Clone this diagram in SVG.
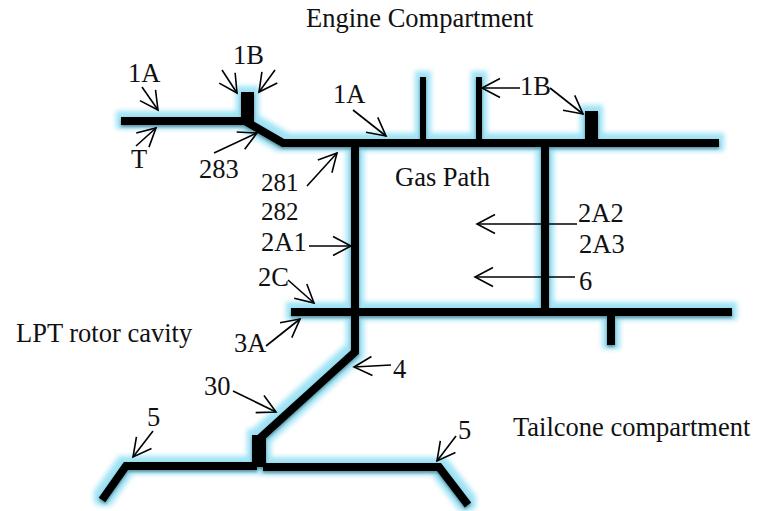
<svg xmlns="http://www.w3.org/2000/svg" width="771" height="511" viewBox="0 0 771 511">
<style>
text{font-family:"Liberation Serif","Times New Roman",serif;font-size:26.500px;fill:#111}
.n{font-size:25px}
.w{fill:none;stroke:#000;stroke-width:8;stroke-linejoin:miter}
.s{fill:none;stroke:#000;stroke-width:6}
.b{fill:#000}
.a{fill:none;stroke:#000;stroke-width:1.600;marker-end:url(#h)}
</style>
<defs>
<marker id="h" markerUnits="userSpaceOnUse" markerWidth="24" markerHeight="26" refX="21" refY="12" orient="auto" viewBox="0 0 24 24">
<path d="M3 2.500L21 12L3 21.500" fill="none" stroke="#000" stroke-width="1.600"/>
</marker>
<filter id="g" x="-10%" y="-10%" width="120%" height="120%" color-interpolation-filters="sRGB">
<feMorphology in="SourceAlpha" operator="dilate" radius="5" result="d"/>
<feGaussianBlur in="d" stdDeviation="2.400" result="bl"/>
<feOffset in="bl" dy="-1" result="blo"/>
<feFlood flood-color="#9fe3f5"/>
<feComposite in2="blo" operator="in" result="glow"/>
<feOffset in="SourceAlpha" dy="2" result="o"/>
<feGaussianBlur in="o" stdDeviation="1.500" result="ob"/>
<feFlood flood-color="#1d4a5a" flood-opacity="0.55"/>
<feComposite in2="ob" operator="in" result="shade"/>
<feMerge><feMergeNode in="glow"/><feMergeNode in="shade"/><feMergeNode in="SourceGraphic"/></feMerge>
</filter>
</defs>
<g id="structure" filter="url(#g)">
<path class="w" d="M121 121H245L283 143H719"/>
<rect class="b" x="241" y="92" width="13" height="30"/>
<path class="s" d="M423 77V143M479 77V143"/>
<rect class="b" x="585" y="111" width="13" height="32"/>
<path class="w" d="M355 143V352L258 440"/>
<path class="w" d="M545 143V312"/>
<path class="w" d="M291 312H732M611 312V345"/>
<rect class="b" x="252" y="435" width="14" height="32"/>
<path class="w" d="M102 500L126 466H257"/>
<path class="w" d="M263 467H439L468 505"/>
</g>
<g id="connectors">
<path class="a" d="M142 87L158 110"/>
<path class="a" d="M136 146L156 128"/>
<path class="a" d="M222 70L237 93"/>
<path class="a" d="M275 70L259 92"/>
<path class="a" d="M214 153L257 133"/>
<path class="a" d="M353 110L386 136"/>
<path class="a" d="M307 186L337 153"/>
<path class="a" d="M520 88H482"/>
<path class="a" d="M550 88L583 114"/>
<path class="a" d="M577 224H477"/>
<path class="a" d="M575 277H475"/>
<path class="a" d="M309 246H351"/>
<path class="a" d="M288 280L314 303"/>
<path class="a" d="M266 346L300 319"/>
<path class="a" d="M391 365L354 367"/>
<path class="a" d="M233 391L276 412"/>
<path class="a" d="M153 431L133 457"/>
<path class="a" d="M456 436L437 461"/>
</g>
<g id="labels">
<text x="306" y="27">Engine Compartment</text>
<text x="128" y="82">1A</text>
<text x="233" y="64">1B</text>
<text x="333" y="103">1A</text>
<text x="131" y="168">T</text>
<text x="199" y="178">283</text>
<text class="n" x="261" y="191">281</text>
<text class="n" x="261" y="220">282</text>
<text x="395" y="186">Gas Path</text>
<text x="520" y="95">1B</text>
<text x="578" y="222">2A2</text>
<text x="579" y="253">2A3</text>
<text x="579" y="290">6</text>
<text x="261" y="251">2A1</text>
<text x="258" y="286">2C</text>
<text x="234" y="352">3A</text>
<text x="16" y="342">LPT rotor cavity</text>
<text x="393" y="378">4</text>
<text x="204" y="395">30</text>
<text x="147" y="426">5</text>
<text x="458" y="439">5</text>
<text x="513" y="436">Tailcone compartment</text>
</g>
</svg>
